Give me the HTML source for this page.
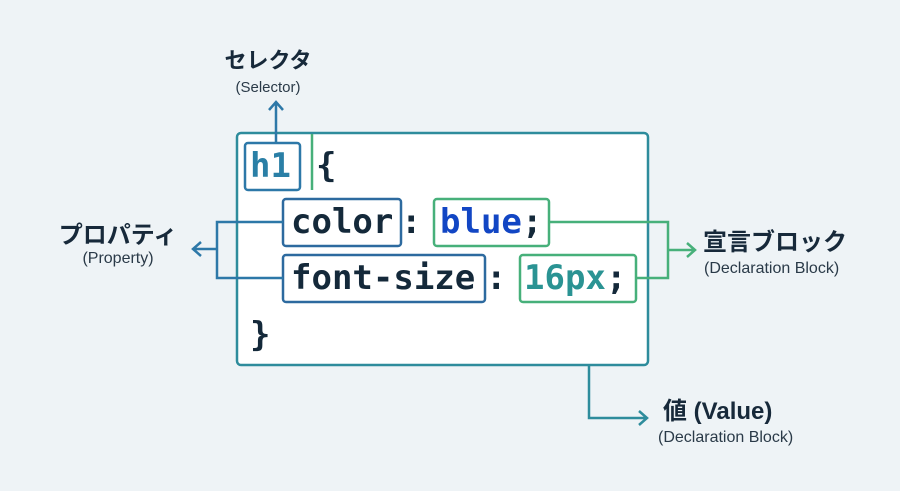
<!DOCTYPE html>
<html><head><meta charset="utf-8"><style>
body{margin:0;width:900px;height:491px;background:#eef3f6;overflow:hidden;position:relative;font-family:"Liberation Sans","Noto Sans CJK JP",sans-serif;color:#17293a}
.t{position:absolute;white-space:nowrap;text-align:center;line-height:1.2}
.j{font-weight:bold;font-size:24px}
.s{font-size:16px;color:#2a3a48}
.c{position:absolute;font-family:"DejaVu Sans Mono","Liberation Mono",monospace;font-weight:bold;font-size:34px;line-height:47px;white-space:nowrap;color:#14293a}
</style></head><body>
<svg width="900" height="491" style="position:absolute;left:0;top:0" fill="none" stroke-width="2.5">
<rect x="237" y="133" width="411" height="232" rx="4" fill="#fff" stroke="#2e8c9c"/>
<rect x="245" y="143" width="55" height="47" rx="3" stroke="#2d78a8"/>
<line x1="312" y1="134" x2="312" y2="190" stroke="#47b07a"/>
<rect x="283" y="199" width="118" height="47" rx="3" stroke="#2d6a9f"/>
<rect x="434" y="199" width="115" height="47" rx="3" stroke="#47b07a"/>
<rect x="283" y="255" width="202" height="47" rx="3" stroke="#2d6a9f"/>
<rect x="520" y="255" width="116" height="47" rx="3" stroke="#47b07a"/>
<g stroke="#2d78a8">
<path d="M276 143V102M269 110l7-8 7 8"/>
<path d="M283 222H217V278H283M217 249H193M201 242l-8 7 8 7"/>
</g>
<g stroke="#47b07a">
<path d="M549 222H668V278H636M668 250H695M687 243l8 7-8 7"/>
</g>
<g stroke="#2e8c9c">
<path d="M589 365V418H647M639 411l8 7-8 7"/>
</g>
</svg>
<div class="c" style="left:250px;top:143px;color:#2a7fa6">h1</div>
<div class="c" style="left:316px;top:143px">{</div>
<div class="c" style="left:291px;top:199px">color</div>
<div class="c" style="left:401px;top:199px">:</div>
<div class="c" style="left:440px;top:199px;color:#1246c4">blue</div>
<div class="c" style="left:522px;top:199px">;</div>
<div class="c" style="left:291px;top:255px">font-size</div>
<div class="c" style="left:486px;top:255px">:</div>
<div class="c" style="left:524px;top:255px;color:#2a9393">16px</div>
<div class="c" style="left:606px;top:255px">;</div>
<div class="c" style="left:250px;top:312px">}</div>
<div class="t j" style="left:208px;top:48px;width:120px;font-size:22px">セレクタ</div>
<div class="t s" style="left:208px;top:79px;width:120px;font-size:15px">(Selector)</div>
<div class="t j" style="left:48px;top:222px;width:140px">プロパティ</div>
<div class="t s" style="left:48px;top:249px;width:140px">(Property)</div>
<div class="t j" style="left:703px;top:229px">宣言ブロック</div>
<div class="t s" style="left:704px;top:259px">(Declaration Block)</div>
<div class="t j" style="left:663px;top:398px">値 (Value)</div>
<div class="t s" style="left:658px;top:428px">(Declaration Block)</div>
</body></html>
